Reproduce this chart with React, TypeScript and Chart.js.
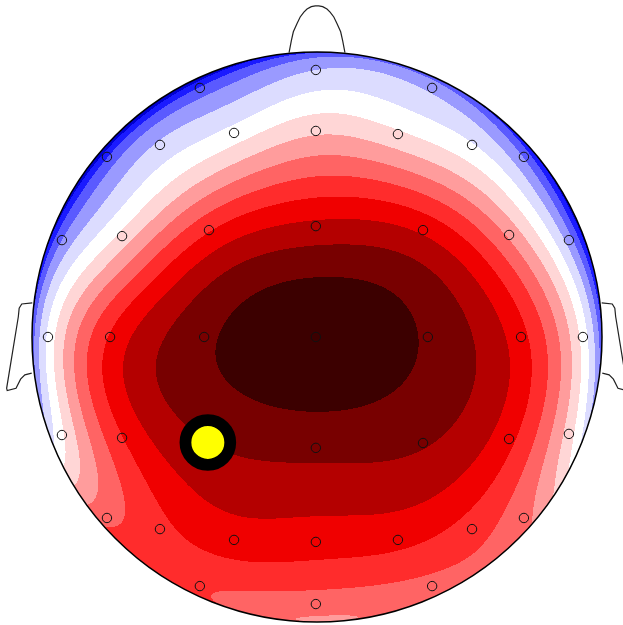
import React, { useEffect, useRef } from "react";
import { Chart, registerables } from "chart.js";

Chart.register(...registerables);

// Channel positions (orthographic top view, radius 1 = head outline; y up)
const channelX = [
  -0.004, -0.411, 0.404, -0.291, -0.004, 0.284, -0.551, 0.544, -0.737, 0.726,
  -0.895, -0.684, -0.379, -0.004, 0.372, 0.674, 0.884,
  -0.944, -0.726, -0.396, -0.004, 0.389, 0.716, 0.933,
  -0.895, -0.684, -0.383, -0.004, 0.372, 0.674, 0.884,
  -0.737, -0.551, -0.291, -0.004, 0.284, 0.544, 0.726,
  -0.411, 0.404, -0.004,
];
const channelY = [
  0.937, 0.874, 0.874, 0.716, 0.723, 0.712, 0.674, 0.674, 0.632, 0.632,
  0.34, 0.354, 0.375, 0.389, 0.375, 0.358, 0.34,
  0, 0, 0, 0, 0, 0, 0,
  -0.344, -0.354, -0.37, -0.389, -0.372, -0.358, -0.34,
  -0.635, -0.674, -0.712, -0.719, -0.712, -0.674, -0.635,
  -0.874, -0.874, -0.937,
];
// Channel values (in contour-level units)
const channelValues = [
  -1.5, -3.4, -1.8, -0.1, 1.3, 0.7, -1.3, -0.4, -3.6, -2.6,
  -2.5, 0.8, 4.4, 5.75, 5.3, 2.3, -2.0,
  -0.3, 4.6, 7.28, 8.3, 7.36, 4.85, 0.1,
  0.3, 4.45, 6.5, 6.8, 6.6, 4.8, 1.0,
  3.2, 4.2, 5.0, 4.96, 4.8, 4.0, 2.8,
  3.7, 3.2, 2.94,
];

// Highlighted channel
const markerX = [-0.383];
const markerY = [-0.37];

// Contour level colours, from level -5 up to level 8
const levelMin = -5;
const levelColors = [
  "#0000d2", "#1a1aff", "#5a5aff", "#9a9aff", "#dcdcff", "#ffffff",
  "#ffd6d6", "#ff9c9c", "#ff6464", "#ff2c2c", "#f00000", "#b40000",
  "#780000", "#3c0000",
];

// Head outline parts
const noseX = [-0.098, -0.09, -0.083, -0.07, -0.059, -0.046, -0.035, -0.02, -0.006, 0.006, 0.02, 0.035, 0.046, 0.059, 0.07, 0.083, 0.09, 0.098];
const noseY = [0.998, 1.04, 1.071, 1.1, 1.123, 1.14, 1.151, 1.159, 1.162, 1.162, 1.159, 1.151, 1.14, 1.123, 1.1, 1.071, 1.04, 0.998];
const earX = [0.999, 1.036, 1.045, 1.048, 1.089, 1.087, 1.056, 1.04, 1.025, 1.001];
const earY = [0.12, 0.116, 0.101, 0.071, -0.18, -0.188, -0.18, -0.148, -0.133, -0.127];

// Spherical spline (Perrin) settings
const splineOrder = 4;
const splineTerms = 40;

function buildGreenTable(size: number): Float64Array {
  const tab = new Float64Array(size + 1);
  for (let i = 0; i <= size; i++) {
    const x = -1 + (2 * i) / size;
    let p0 = 1;
    let p1 = x;
    let s = 0;
    for (let n = 1; n <= splineTerms; n++) {
      s += ((2 * n + 1) / Math.pow(n * (n + 1), splineOrder)) * p1;
      const p2 = ((2 * n + 1) * x * p1 - n * p0) / (n + 1);
      p0 = p1;
      p1 = p2;
    }
    tab[i] = s / (4 * Math.PI);
  }
  return tab;
}

function solve(A: number[][]): number[] {
  const n = A.length;
  for (let c = 0; c < n; c++) {
    let p = c;
    for (let r = c + 1; r < n; r++) if (Math.abs(A[r][c]) > Math.abs(A[p][c])) p = r;
    const t = A[c]; A[c] = A[p]; A[p] = t;
    for (let r = 0; r < n; r++) {
      if (r === c) continue;
      const f = A[r][c] / A[c][c];
      if (f === 0) continue;
      for (let k = c; k <= n; k++) A[r][k] -= f * A[c][k];
    }
  }
  return A.map((row, i) => row[n] / row[i]);
}

function hexToRgb(h: string): number[] {
  return [parseInt(h.slice(1, 3), 16), parseInt(h.slice(3, 5), 16), parseInt(h.slice(5, 7), 16)];
}

const topoPlugin = {
  id: "topo",
  beforeDatasetsDraw(chart: any) {
    const { ctx, scales } = chart;
    const xs = scales.x;
    const ys = scales.y;
    const w = Math.round(chart.width);
    const h = Math.round(chart.height);
    const n = channelX.length;
    const TS = 20000;
    const tab = buildGreenTable(TS);
    const g = (c: number) => {
      const f = ((c + 1) / 2) * TS;
      let i = Math.floor(f);
      if (i < 0) i = 0;
      if (i >= TS) i = TS - 1;
      const t = f - i;
      return tab[i] * (1 - t) + tab[i + 1] * t;
    };
    const ex: number[] = [], ey: number[] = [], ez: number[] = [];
    for (let i = 0; i < n; i++) {
      ex.push(channelX[i]);
      ey.push(channelY[i]);
      ez.push(Math.sqrt(Math.max(0, 1 - channelX[i] ** 2 - channelY[i] ** 2)));
    }
    const A: number[][] = [];
    for (let i = 0; i < n; i++) {
      const row: number[] = [];
      for (let j = 0; j < n; j++) row.push(g(ex[i] * ex[j] + ey[i] * ey[j] + ez[i] * ez[j]));
      row.push(1);
      row.push(channelValues[i]);
      A.push(row);
    }
    const last: number[] = [];
    for (let j = 0; j < n; j++) last.push(1);
    last.push(0);
    last.push(0);
    A.push(last);
    const sol = solve(A);
    const c0 = sol[n];
    const rgb = levelColors.map(hexToRgb);
    const off = document.createElement("canvas");
    off.width = w;
    off.height = h;
    const octx = off.getContext("2d")!;
    const img = octx.createImageData(w, h);
    for (let py = 0; py < h; py++) {
      const vy = ys.getValueForPixel(py + 0.5);
      for (let px = 0; px < w; px++) {
        const vx = xs.getValueForPixel(px + 0.5);
        const rr = vx * vx + vy * vy;
        if (rr > 1) continue;
        const vz = Math.sqrt(1 - rr);
        let v = c0;
        for (let j = 0; j < n; j++) v += sol[j] * g(vx * ex[j] + vy * ey[j] + vz * ez[j]);
        let idx = Math.round(v) - levelMin;
        if (idx < 0) idx = 0;
        if (idx > rgb.length - 1) idx = rgb.length - 1;
        const o = (py * w + px) * 4;
        img.data[o] = rgb[idx][0];
        img.data[o + 1] = rgb[idx][1];
        img.data[o + 2] = rgb[idx][2];
        img.data[o + 3] = 255;
      }
    }
    octx.putImageData(img, 0, 0);
    ctx.save();
    ctx.drawImage(off, 0, 0);
    // head outline
    const cx = xs.getPixelForValue(0);
    const cy = ys.getPixelForValue(0);
    const r = xs.getPixelForValue(1) - cx;
    ctx.beginPath();
    ctx.arc(cx, cy, r, 0, Math.PI * 2);
    ctx.strokeStyle = "#000";
    ctx.lineWidth = 1.5;
    ctx.stroke();
    ctx.restore();
  },
};

export default function App() {
  const ref = useRef<HTMLCanvasElement | null>(null);
  useEffect(() => {
    if (!ref.current) return;
    const outline = { showLine: true, pointRadius: 0, borderColor: "#222", borderWidth: 1.2, fill: false, clip: false as any, tension: 0 };
    const chart = new Chart(ref.current, {
      type: "scatter",
      data: {
        datasets: [
          {
            label: "marker",
            data: markerX.map((x, i) => ({ x, y: markerY[i] })),
            pointRadius: 22.4,
            pointBorderWidth: 11.8,
            pointBackgroundColor: "#ffff00",
            pointBorderColor: "#000",
            clip: false as any,
          },
          {
            label: "channels",
            data: channelX.map((x, i) => ({ x, y: channelY[i] })),
            pointRadius: 4.7,
            pointBorderWidth: 1,
            pointBackgroundColor: "rgba(0,0,0,0)",
            pointBorderColor: "#111",
            clip: false as any,
          },
          { label: "nose", data: noseX.map((x, i) => ({ x, y: noseY[i] })), ...outline },
          { label: "earL", data: earX.map((x, i) => ({ x: -x, y: earY[i] })), ...outline },
          { label: "earR", data: earX.map((x, i) => ({ x, y: earY[i] })), ...outline },
        ],
      },
      options: {
        animation: false,
        responsive: false,
        devicePixelRatio: 1,
        layout: { padding: 0, autoPadding: false },
        plugins: { legend: { display: false }, tooltip: { enabled: false } },
        events: [],
        scales: {
          x: { type: "linear", display: false, min: -317 / 285, max: 306 / 285 },
          y: { type: "linear", display: false, min: -288 / 285, max: 337 / 285 },
        },
      },
      plugins: [topoPlugin],
    });
    return () => chart.destroy();
  }, []);
  return (
    <div style={{ position: "fixed", left: 0, top: 0, width: 623, height: 625, background: "#fff" }}>
      <canvas ref={ref} width={623} height={625} style={{ display: "block" }} />
    </div>
  );
}
